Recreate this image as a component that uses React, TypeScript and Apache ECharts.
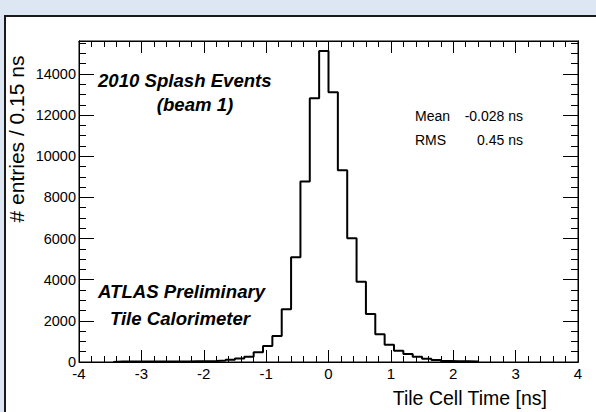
import React, { useEffect, useRef } from "react";
import * as echarts from "echarts";

// Histogram: Tile cell time, bins of 0.15 ns starting at binLow
const binLow = -3.45;
const binWidth = 0.15;
const counts = [
  20, 25, 20, 25, 30, 25, 30, 30, 35, 40, 45,
  70, 110, 170, 260,
  470, 775, 1264, 2560, 5090, 8770, 12820, 15120,
  13110, 9320, 6010, 3900, 2330, 1350, 840, 549, 389, 258, 160, 97,
  50, 40, 35, 30,
];

const xMin = -4;
const xMax = 4;
const xInterval = 1;
const yMin = 0;
const yMax = 15600;
const yMajor = 2000;
const yMinor = 500;

const statLabels = ["Mean", "RMS"];
const statValues = ["-0.028 ns", "0.45 ns"];

const FONT = "'Liberation Sans', Arial, Helvetica, sans-serif";

export default function App() {
  const ref = useRef<HTMLDivElement>(null);
  useEffect(() => {
    const chart = echarts.init(ref.current!, null, { renderer: "svg" });
    const edges = counts.map((_, i) => binLow + i * binWidth);
    const lastEdge = binLow + counts.length * binWidth;
    const data: number[][] = [[edges[0], 0]];
    counts.forEach((c, i) => data.push([edges[i], c]));
    data.push([lastEdge, 0]);

    const black = "#000";
    const xAxisBase = (pos: string, labels: boolean) => ({
      type: "value",
      position: pos,
      min: xMin,
      max: xMax,
      interval: xInterval,
      axisLine: { show: true, onZero: false, lineStyle: { color: black, width: 1 } },
      axisTick: { show: true, inside: true, length: 12, lineStyle: { color: black, width: 1 } },
      minorTick: { show: true, splitNumber: 5, length: 6, lineStyle: { color: black, width: 1 } },
      splitLine: { show: false },
      minorSplitLine: { show: false },
      axisLabel: {
        show: labels,
        color: black,
        fontSize: 15,
        margin: 4,
        fontFamily: FONT,
        formatter: (v: number) => String(v),
      },
    });
    const yAxisBase = (pos: string, interval: number, len: number, labels: boolean) => ({
      type: "value",
      position: pos,
      min: yMin,
      max: yMax,
      interval,
      axisLine: { show: true, onZero: false, lineStyle: { color: black, width: 1 } },
      axisTick: { show: true, inside: true, length: len, lineStyle: { color: black, width: 1 } },
      splitLine: { show: false },
      axisLabel: {
        show: labels,
        color: black,
        fontSize: 14.5,
        margin: 3,
        fontFamily: FONT,
        showMaxLabel: false,
        formatter: (v: number) => String(v),
      },
    });

    const txt = (
      text: string,
      x: number,
      y: number,
      size: number,
      opts: any = {}
    ) => ({
      type: "text",
      z: 10,
      silent: true,
      x,
      y,
      rotation: opts.rotation || 0,
      style: {
        text,
        fill: black,
        fontFamily: FONT,
        fontSize: size,
        fontWeight: opts.bold ? "bold" : "normal",
        fontStyle: opts.italic ? "italic" : "normal",
        align: opts.align || "left",
        textAlign: opts.align || "left",
        verticalAlign: "middle",
        textVerticalAlign: "middle",
      },
    });

    chart.setOption({
      animation: false,
      backgroundColor: "#dde7f4",
      grid: {
        left: 79,
        right: 18,
        top: 41,
        bottom: 50,
        show: true,
        borderColor: black,
        borderWidth: 1,
        backgroundColor: "transparent",
      },
      xAxis: [xAxisBase("bottom", true), xAxisBase("top", false)],
      yAxis: [
        yAxisBase("left", yMajor, 15, true),
        yAxisBase("left", yMinor, 7, false),
        yAxisBase("right", yMajor, 15, false),
        yAxisBase("right", yMinor, 7, false),
      ],
      graphic: [
        {
          type: "rect",
          z: -10,
          silent: true,
          shape: { x: 5, y: 16, width: 700, height: 500 },
          style: { fill: "#fff", stroke: "#1a1a1a", lineWidth: 2 },
        },
        txt("# entries / 0.15 ns", 16, 139, 21, { rotation: Math.PI / 2, align: "center" }),
        txt("Tile Cell Time [ns]", 547, 398, 19.5, { align: "right" }),
        txt("2010 Splash Events", 98, 80, 18.6, { bold: true, italic: true }),
        txt("(beam 1)", 195, 104, 18.6, { bold: true, italic: true, align: "center" }),
        txt("ATLAS Preliminary", 98, 291, 18.6, { bold: true, italic: true }),
        txt("Tile Calorimeter", 180, 318, 18.6, { bold: true, italic: true, align: "center" }),
        txt(statLabels[0], 415, 116, 14),
        txt(statValues[0], 523, 116, 14, { align: "right" }),
        txt(statLabels[1], 415, 140, 14),
        txt(statValues[1], 523, 140, 14, { align: "right" }),
      ],
      series: [
        {
          type: "line",
          xAxisIndex: 0,
          yAxisIndex: 0,
          data,
          step: "end",
          showSymbol: false,
          symbol: "none",
          lineStyle: { color: black, width: 2 },
          z: 5,
        },
      ],
    });
    return () => chart.dispose();
  }, []);
  return (
    <div
      ref={ref}
      style={{ position: "fixed", left: 0, top: 0, width: 596, height: 412 }}
    />
  );
}
